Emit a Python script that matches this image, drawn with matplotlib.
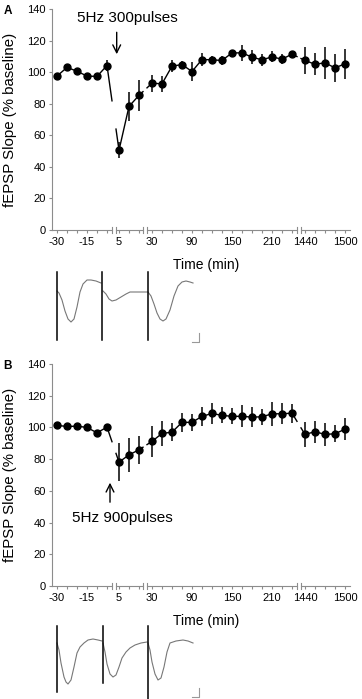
#!/usr/bin/env python
"""plot.py: fEPSP slope after 5Hz stimulation (panels A and B)"""
from matplotlib import pyplot as plt
from matplotlib.transforms import blended_transform_factory
import numpy as np

plt.rcParams['font.family'] = ['Liberation Sans', 'DejaVu Sans']

# time points (min), split into the four broken-axis segments
seg_times = [
    [-30, -25, -20, -15, -10, -5],
    [5, 10, 15],
    [30, 45, 60, 75, 90, 105, 120, 135, 150, 165, 180, 195, 210, 225, 240],
    [1440, 1455, 1470, 1485, 1500],
]
tick_labels = ['-30', '-15', '5', '30', '90', '150', '210', '1440', '1500']
tick_times = [-30, -15, 5, 30, 90, 150, 210, 1440, 1500]

# panel A: 300 pulses
mean_a = [97.5, 103, 100.6, 97.5, 97.3, 104.2,
          50.5, 78.3, 85.3,
          93, 92.6, 103.8, 104.8, 100.4, 108, 107.8, 107.4, 112.2, 112.2,
          109.5, 107.8, 109.7, 108.2, 111.4,
          107.4, 105, 105.9, 102.7, 105.3]
sem_a = [1, 1, 1, 1, 1, 3.6,
         5, 9, 10,
         5.5, 5, 4, 2, 6, 4, 2.5, 3, 2, 5,
         4.5, 4, 3.5, 3, 2,
         8.5, 7, 10, 9, 9.5]

# panel B: 900 pulses
mean_b = [101.3, 100.6, 100.8, 100, 96.6, 100.2,
          78.1, 82.7, 85.9,
          91.2, 96.2, 97, 103.2, 103.2, 107, 108.8, 107.6, 107, 107,
          106.5, 106.7, 108.6, 108.6, 109,
          95.6, 97.3, 95.6, 96, 98.9]
sem_b = [1, 1, 1, 1, 2, 2,
         12, 10.5, 9,
         10, 8, 5.5, 6, 5.5, 6, 6.5, 5, 5, 7,
         6.5, 5, 7.5, 6.5, 6,
         8, 7, 7, 5.5, 7]

# example field potential traces (three sweeps each), x and y
trace_a = [
    ([57, 59, 62, 65, 68, 71, 74, 77, 80, 83, 87, 91, 96, 101],
     [291, 293, 300, 311, 319, 322, 319, 307, 292, 284, 280, 280, 281, 283]),
    ([103, 106, 109, 112, 116, 121, 126, 130, 136, 142, 147],
     [291, 294, 299, 301, 300, 297, 294, 292, 292, 292, 292]),
    ([148, 151, 154, 157, 160, 163, 166, 170, 174, 178, 182, 186, 190, 193],
     [292, 296, 304, 313, 319, 321, 319, 310, 296, 286, 282, 281, 282, 283]),
]
trace_b = [
    ([57, 59, 61, 64, 66, 68, 71, 74, 77, 80, 84, 88, 93, 98, 102],
     [643, 650, 663, 677, 682, 684, 680, 667, 653, 647, 643, 640, 639, 640, 641]),
    ([103, 105, 107, 110, 113, 116, 119, 122, 126, 130, 135, 141, 147],
     [643, 652, 664, 674, 677, 675, 667, 658, 652, 648, 645, 643, 642]),
    ([148, 150, 152, 155, 158, 161, 164, 167, 170, 176, 183, 188, 193],
     [643, 650, 662, 674, 680, 678, 667, 652, 643, 641, 640, 641, 643]),
]
stim_a = [(57, 272, 340), (102, 272, 340), (148, 272, 340)]
stim_b = [(57, 626, 692), (103, 626, 683), (148, 626, 699)]

AXIS_GREY = '#8c8c8c'
SEG_START = [0.0, 6.2, 9.5, 24.8]       # x position of first point of each segment
BREAKS = [(5.5, 5.9), (8.6, 9.0), (24.0, 24.4)]


def positions():
    pos = []
    for start, times in zip(SEG_START, seg_times):
        pos += [start + i for i in range(len(times))]
    return np.array(pos)


def draw_panel(ax, mean, sem, xlabel_y):
    x = positions()
    mean = np.array(mean)
    sem = np.array(sem)
    bounds = np.cumsum([0] + [len(t) for t in seg_times])

    ax.errorbar(x, mean, yerr=sem, fmt='none', ecolor='black', elinewidth=1.1,
                capsize=0, zorder=2)
    for i in range(len(seg_times)):
        s, e = bounds[i], bounds[i + 1]
        ax.plot(x[s:e], mean[s:e], '-', color='black', lw=1.0, zorder=3)
    # lines across the axis breaks have a gap in them
    for i, (b0, b1) in enumerate(BREAKS):
        j0, j1 = bounds[i + 1] - 1, bounds[i + 1]
        x0, x1 = x[j0], x[j1]
        y0, y1 = mean[j0], mean[j1]
        f0 = (b0 - x0) / (x1 - x0)
        f1 = (b1 - x0) / (x1 - x0)
        ax.plot([x0, x0 + f0 * (x1 - x0)], [y0, y0 + f0 * (y1 - y0)],
                color='black', lw=1.0, zorder=3)
        ax.plot([x0 + f1 * (x1 - x0), x1], [y0 + f1 * (y1 - y0), y1],
                color='black', lw=1.0, zorder=3)
    ax.plot(x, mean, 'o', color='black', ms=5, zorder=4)

    ax.set_xlim(-0.5, 29.3)
    ax.set_ylim(0, 140)
    ax.set_yticks(range(0, 141, 20))
    ax.set_xticks(x, minor=True)
    tick_pos = [x[[t for s in seg_times for t in s].index(tt)] for tt in tick_times]
    ax.set_xticks(tick_pos)
    ax.set_xticklabels(tick_labels)
    ax.tick_params(axis='both', which='both', labelsize=8, color=AXIS_GREY,
                   direction='out', width=0.8)
    ax.tick_params(axis='x', which='both', length=2, pad=3)
    ax.tick_params(axis='y', length=2.5, pad=2)

    for side in ['top', 'right', 'bottom']:
        ax.spines[side].set_visible(False)
    ax.spines['left'].set_color(AXIS_GREY)
    ax.spines['left'].set_linewidth(0.8)

    # broken bottom axis drawn by hand
    trans = blended_transform_factory(ax.transData, ax.transAxes)
    edges = [-0.5] + [b for br in BREAKS for b in br] + [29.3]
    for k in range(0, len(edges), 2):
        ax.plot([edges[k], edges[k + 1]], [0, 0], color=AXIS_GREY, lw=0.8,
                transform=trans, clip_on=False)
    for b in [b for br in BREAKS for b in br]:
        ax.plot([b, b], [-0.012, 0.012], color=AXIS_GREY, lw=0.8,
                transform=trans, clip_on=False)

    ax.set_ylabel('fEPSP Slope (% baseline)', fontsize=10.8)
    ax.yaxis.set_label_coords(-0.116, 0.5)
    ax.set_xlabel('Time (min)', fontsize=10)
    ax.xaxis.set_label_coords(0.517, xlabel_y)


def draw_traces(ax, sweeps, stims):
    for (sx, sy), (xs, y0, y1) in zip(sweeps, stims):
        ax.plot(sx, sy, color='#777777', lw=0.8)
        ax.plot([xs, xs], [y0, y1], color='black', lw=1.1)


def main():
    fig = plt.figure(figsize=(3.62, 6.99), dpi=100)
    ax_a = fig.add_axes([52 / 362, 1 - 230 / 699, 298 / 362, 221 / 699])
    ax_b = fig.add_axes([52 / 362, 1 - 586 / 699, 298 / 362, 222 / 699])

    draw_panel(ax_a, mean_a, sem_a, -0.125)
    draw_panel(ax_b, mean_b, sem_b, -0.128)

    ax_a.annotate('', xy=(5.97, 109.6), xytext=(5.97, 127),
                  arrowprops=dict(arrowstyle='->', lw=1, color='black',
                                  mutation_scale=14))
    ax_a.text(7.0, 134.3, '5Hz 300pulses', fontsize=11, ha='center', va='center')
    ax_b.annotate('', xy=(5.3, 66.9), xytext=(5.3, 51.1),
                  arrowprops=dict(arrowstyle='->', lw=1, color='black',
                                  mutation_scale=14))
    ax_b.text(6.5, 42.9, '5Hz 900pulses', fontsize=11, ha='center', va='center')

    fig.text(8 / 362, 1 - 11 / 699, 'A', fontsize=8.5, fontweight='bold',
             ha='center', va='center')
    fig.text(8 / 362, 1 - 366 / 699, 'B', fontsize=8.5, fontweight='bold',
             ha='center', va='center')

    # overlay in figure pixel units for the example traces
    ax_t = fig.add_axes([0, 0, 1, 1], zorder=-1)
    ax_t.set_xlim(0, 362)
    ax_t.set_ylim(699, 0)
    ax_t.axis('off')
    draw_traces(ax_t, trace_a, stim_a)
    draw_traces(ax_t, trace_b, stim_b)
    # scale bars
    for top, bottom in [(333, 342), (688, 697)]:
        ax_t.plot([199, 199, 192], [top, bottom, bottom], color='#999999', lw=0.8)

    fig.savefig('out.png', dpi=100)


if __name__ == '__main__':
    main()
